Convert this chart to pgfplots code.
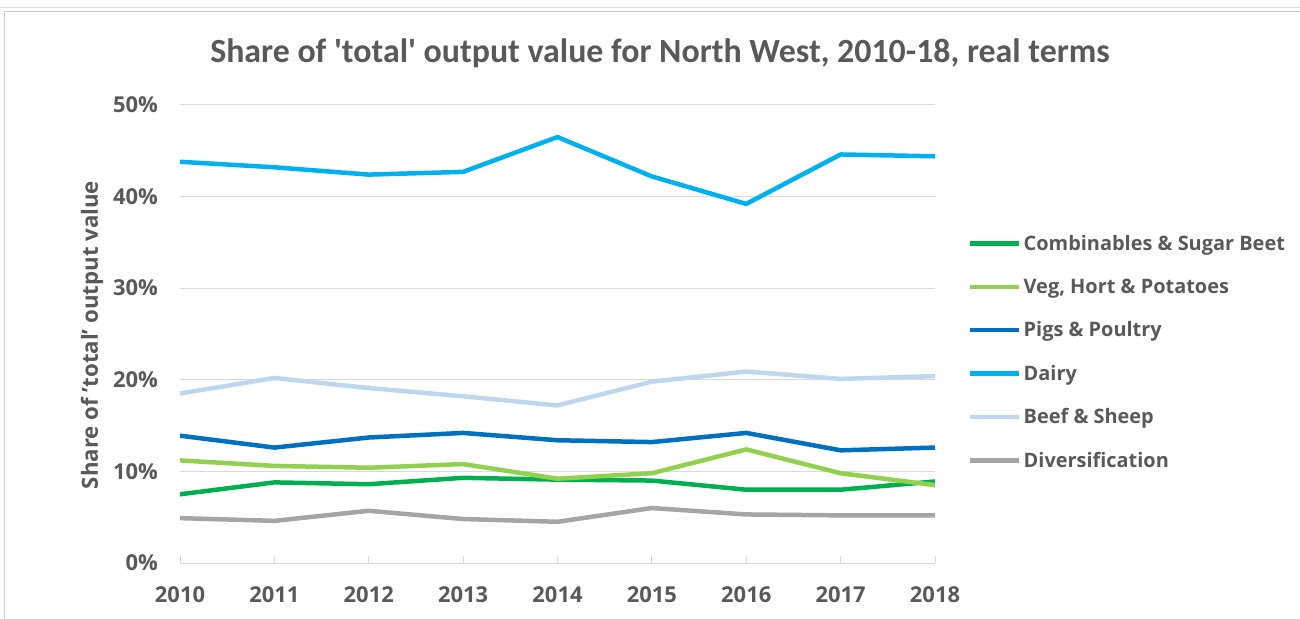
\documentclass[border=0pt]{standalone}
\usepackage{fontspec}
\setmainfont{Open Sans}
\newfontfamily\titlefont{Carlito}
\usepackage{pgfplots}
\pgfplotsset{compat=1.18}
\definecolor{txt}{HTML}{595959}
\definecolor{gridc}{HTML}{D9D9D9}
\definecolor{ccomb}{HTML}{00B050}
\definecolor{cveg}{HTML}{92D050}
\definecolor{cpig}{HTML}{0070C0}
\definecolor{cdairy}{HTML}{00B0F0}
\definecolor{cbeef}{HTML}{BDD7EE}
\definecolor{cdiv}{HTML}{A5A5A5}
\begin{document}
\begin{tikzpicture}
\path[use as bounding box] (0bp,0bp) rectangle (1300bp,619bp);
\draw[color=gray!25, line width=1bp] (0bp,611.5bp) -- (1300bp,611.5bp);
\draw[color=gray!40, line width=1bp] (4bp,0bp) -- (4bp,607.5bp) -- (1300bp,607.5bp);
\node[font=\titlefont\bfseries\fontsize{34}{40}\selectfont, text=txt] at (660bp,566bp) {Share of 'total' output value for North West, 2010-18, real terms};
\node[rotate=90, font=\bfseries\fontsize{22.3}{26}\selectfont, text=txt] at (92bp,284bp) {Share of 'total' output value};
\begin{axis}[
  at={(180bp,56bp)}, anchor=south west,
  scale only axis, width=755bp, height=458bp,
  xmin=2010, xmax=2018, ymin=0, ymax=50,
  axis lines*=left,
  x axis line style={draw=gridc, line width=1bp, -},
  y axis line style={draw=none},
  xtick={2010,2011,2012,2013,2014,2015,2016,2017,2018},
  xticklabels={2010,2011,2012,2013,2014,2015,2016,2017,2018},
  ytick={0,10,20,30,40,50},
  yticklabels={0\%,10\%,20\%,30\%,40\%,50\%},
  tick align=inside, major tick length=7bp,
  xtick style={draw=gridc, line width=1bp},
  ytick style={draw=none},
  ymajorgrids, grid style={draw=gridc, line width=1bp},
  ticklabel style={font=\bfseries\fontsize{22}{26}\selectfont, text=txt},
  xticklabel style={anchor=base, inner sep=0pt, yshift=-39bp},
  yticklabel style={anchor=base east, inner sep=0pt, xshift=-22bp, yshift=-7.8bp},
  every axis plot/.append style={line width=4.5bp, line join=round},
  legend style={at={(1.0437,0.72)}, anchor=north west, draw=none, fill=none,
    font=\bfseries\fontsize{20}{24}\selectfont, text=txt, row sep=22.8bp, inner sep=0pt},
  legend cell align=left,
  legend image code/.code={\draw[#1, line width=4.5bp] (0bp,0bp) -- (49bp,0bp);},
]
\addplot[ccomb, no marks] coordinates {(2010,7.5) (2011,8.8) (2012,8.6) (2013,9.3) (2014,9.1) (2015,9.0) (2016,8.0) (2017,8.0) (2018,8.9)};
\addlegendentry{Combinables \& Sugar Beet}
\addplot[cveg, no marks] coordinates {(2010,11.2) (2011,10.6) (2012,10.4) (2013,10.8) (2014,9.2) (2015,9.8) (2016,12.4) (2017,9.8) (2018,8.5)};
\addlegendentry{Veg, Hort \& Potatoes}
\addplot[cpig, no marks] coordinates {(2010,13.9) (2011,12.6) (2012,13.7) (2013,14.2) (2014,13.4) (2015,13.2) (2016,14.2) (2017,12.3) (2018,12.6)};
\addlegendentry{Pigs \& Poultry}
\addplot[cdairy, no marks] coordinates {(2010,43.8) (2011,43.2) (2012,42.4) (2013,42.7) (2014,46.5) (2015,42.2) (2016,39.2) (2017,44.6) (2018,44.4)};
\addlegendentry{Dairy}
\addplot[cbeef, no marks] coordinates {(2010,18.5) (2011,20.2) (2012,19.1) (2013,18.2) (2014,17.2) (2015,19.8) (2016,20.9) (2017,20.1) (2018,20.4)};
\addlegendentry{Beef \& Sheep}
\addplot[cdiv, no marks] coordinates {(2010,4.9) (2011,4.6) (2012,5.7) (2013,4.8) (2014,4.5) (2015,6.0) (2016,5.3) (2017,5.2) (2018,5.2)};
\addlegendentry{Diversification}
\end{axis}
\end{tikzpicture}
\end{document}
